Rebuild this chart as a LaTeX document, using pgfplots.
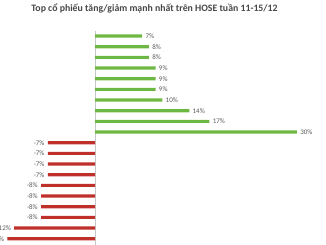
\documentclass[border=0pt]{standalone}
\usepackage{pgfplots}
\pgfplotsset{compat=1.18}
\usepackage{fontspec}
\setmainfont{Carlito}
\definecolor{upgreen}{HTML}{6DB843}
\definecolor{downred}{HTML}{C0302A}
\definecolor{lbl}{HTML}{595959}
\begin{document}
\begin{tikzpicture}
\useasboundingbox (0,0) rectangle (326pt,245pt);
\begin{axis}[
  at={(0pt,0pt)}, anchor=south west,
  scale only axis, width=326pt, height=214.3pt,
  xmin=-14.11, xmax=34.31,
  ymin=-0.5, ymax=19.59, y dir=reverse,
  axis line style={draw=none},
  xtick=\empty, ytick=\empty,
  extra x ticks={0}, extra x tick labels={},
  extra x tick style={grid=major, major grid style={draw=black!22, line width=0.8pt}, major tick length=0pt},
  clip=false,
  xbar, bar width=3.2pt, bar shift=0pt,
  point meta=explicit symbolic,
  nodes near coords,
  every node near coord/.append style={font=\fontsize{7}{8}\selectfont, text=lbl, inner sep=0pt},
]
\addplot[fill=upgreen, draw=none, nodes near coords style={anchor=west, xshift=3.2pt}] coordinates {
(7,0) [7\%] (8,1) [8\%] (8,2) [8\%] (9,3) [9\%] (9,4) [9\%] (9,5) [9\%] (10,6) [10\%] (14,7) [14\%] (17,8) [17\%] (30,9) [30\%]
};
\addplot[fill=downred, draw=none, nodes near coords style={anchor=east, xshift=-3.2pt}] coordinates {
(-7,10) [-7\%] (-7,11) [-7\%] (-7,12) [-7\%] (-7,13) [-7\%] (-8,14) [-8\%] (-8,15) [-8\%] (-8,16) [-8\%] (-8,17) [-8\%] (-12,18) [-12\%] (-13,19) [-13\%]
};
\end{axis}
\node[font=\bfseries\fontsize{9.8}{12}\selectfont, text=black!72] at (154.5pt,236pt) {Top cổ phiếu tăng/giảm mạnh nhất trên HOSE tuần 11-15/12};
\end{tikzpicture}
\end{document}
